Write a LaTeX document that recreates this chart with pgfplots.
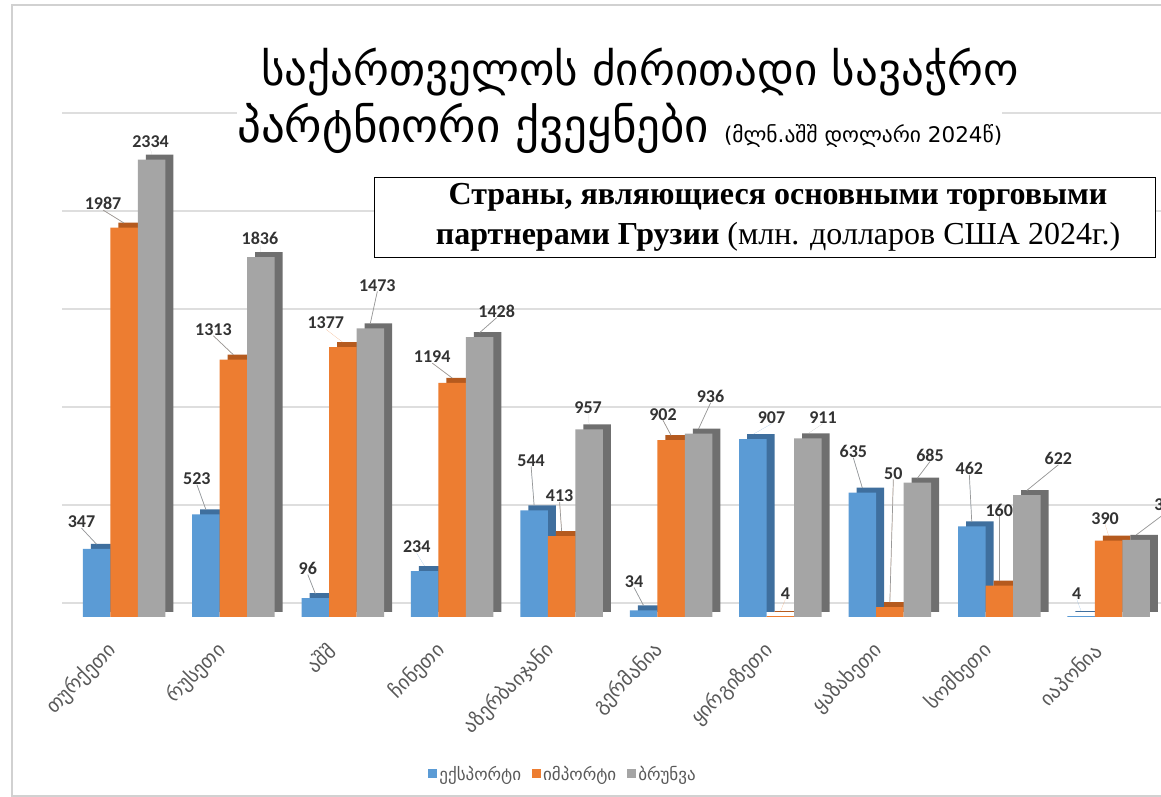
\documentclass[border=0pt]{standalone}
\usepackage{fontspec}
\usepackage{pgfplots}
\pgfplotsset{compat=1.18}
\usepackage{pgfplotstable}
\setmainfont{DejaVu Sans}
\newfontfamily\geo{DejaVu Sans}
\newfontfamily\num{Carlito}
\newfontfamily\rus{Liberation Serif}
\definecolor{cE}{HTML}{5B9BD5}
\definecolor{cEs}{HTML}{3F6F9E}
\definecolor{cI}{HTML}{ED7D31}
\definecolor{cIs}{HTML}{B55A1E}
\definecolor{cT}{HTML}{A5A5A5}
\definecolor{cTs}{HTML}{6F6F6F}
\definecolor{lab}{HTML}{333333}
\definecolor{tickc}{HTML}{595959}

% x, value, label offset dx/dy (pt) from bar top, leader line flag
\pgfplotstableread{
x e edx edy el i idx idy il t tdx tdy tl
0 347 -15 27 1 1987 -21 24 1 2334 -1 18 0
1 523 -9 36 1 1313 -20 30 1 1836 -1 19 0
2 96 -7.5 30 1 1377 -17 24 0 1473 7 43 1
3 234 -8 24 0 1194 -20 26 1 1428 17 26 1
4 544 -3 50 1 413 -2 40 1 957 -1 22 0
5 34 -9.5 29 1 902 -8 26 1 936 12 37 1
6 907 18.5 21.5 0 4 5 23 0 911 15 21 0
7 635 -9 41 1 50 3.5 134 1 685 12.7 27.7 1
8 462 -2.4 58 1 160 0 75.6 1 622 31.6 36.7 1
9 4 -4.4 23 0 390 -3.6 22.3 0 394 32 35 1
}\data

\pgfplotsset{
  myleg/.style={legend image code/.code={\fill[##1, draw=none] (0pt,-4.5pt) rectangle (9pt,4.5pt);}},
  lbl/.style 2 args={
    point meta=explicit symbolic,
    visualization depends on={\thisrow{#1dx}\as\dx},
    visualization depends on={\thisrow{#1dy}\as\dy},
    visualization depends on={\thisrow{#1l}\as\lead},
    nodes near coords,
    every node near coord/.append style={anchor=center,
      xshift={\dx pt+#2}, yshift={\dy pt},
      font=\num\bfseries\fontsize{18}{18}\selectfont, text=lab, inner sep=0pt,
      append after command={(\tikzlastnode.south) edge[draw=black!40, line width=0.7pt, draw opacity=\lead] ++({-1*(\dx pt)},{-1*(\dy pt)+11pt})}}
  },
}

\begin{document}
\begin{tikzpicture}
\useasboundingbox (0,0) rectangle (1161pt,797pt);
\clip (0,0) rectangle (1161pt,797pt);
\fill[white] (0,0) rectangle (1161pt,797pt);
\draw[black!18, line width=1.2pt] (12pt,1pt) rectangle (1190pt,792pt);
\begin{axis}[
  at={(62pt,180pt)}, anchor=south west,
  scale only axis, width=1134.1pt, height=490pt,
  xmin=-0.5667, xmax=9.8, ymin=0, ymax=2500,
  clip=false,
  axis line style={draw=none},
  tick style={draw=none},
  ytick={0,500,...,2500}, yticklabels={},
  ymajorgrids, grid style={draw=black!13, line width=1.3pt, yshift=14pt},
  xtick={0,...,9},
  xticklabels={თურქეთი,რუსეთი,აშშ,ჩინეთი,აზერბაიჯანი,გერმანია,ყირგიზეთი,ყაზახეთი,სომხეთი,იაპონია},
  xticklabel style={font=\geo\fontsize{20}{20}\selectfont, text=tickc, xshift=-11pt, yshift=-30pt, rotate=45, anchor=east, inner sep=0pt},
  legend columns=3,
  legend style={at={(0.4418,-0.3204)}, anchor=center, draw=none, fill=none,
    font=\geo\fontsize{17}{17}\selectfont, text=tickc,
    /tikz/every even column/.append style={column sep=9pt}},
]
% export
\addplot[ybar, bar width=27.5pt, bar shift=-27.5pt, fill=cEs, draw=none, xshift=8pt, yshift=5pt, forget plot] table[x=x,y=e] {\data};
\addplot[ybar, bar width=27.5pt, bar shift=-27.5pt, fill=cE, draw=none, myleg, lbl={e}{-27.5pt}] table[x=x,y=e,meta=e] {\data};
% import
\addplot[ybar, bar width=27.5pt, bar shift=0pt, fill=cIs, draw=none, xshift=8pt, yshift=5pt, forget plot] table[x=x,y=i] {\data};
\addplot[ybar, bar width=27.5pt, bar shift=0pt, fill=cI, draw=none, myleg, lbl={i}{0pt}] table[x=x,y=i,meta=i] {\data};
% turnover
\addplot[ybar, bar width=27.5pt, bar shift=27.5pt, fill=cTs, draw=none, xshift=8pt, yshift=5pt, forget plot] table[x=x,y=t] {\data};
\addplot[ybar, bar width=27.5pt, bar shift=27.5pt, fill=cT, draw=none, myleg, lbl={t}{27.5pt}] table[x=x,y=t,meta=t] {\data};
\legend{ექსპორტი,იმპორტი,ბრუნვა}
\end{axis}
\node[font=\geo\fontsize{45}{45}\selectfont, anchor=center] at (640pt,725pt) {საქართველოს ძირითადი სავაჭრო};
\node[anchor=west, inner sep=0pt, fill=white] at (237pt,669pt) {\geo\fontsize{47}{47}\selectfont პარტნიორი ქვეყნები \fontsize{21.5}{21.5}\selectfont(მლნ.აშშ დოლარი 2024წ)};
\draw[black, line width=1pt, fill=white] (374pt,539pt) rectangle (1155pt,619pt);
\node[align=center, font=\rus\fontsize{32}{40}\selectfont, inner sep=0pt] at (778pt,580pt) {\textbf{Страны, являющиеся основными торговыми}\\\textbf{партнерами Грузии} (млн. долларов США 2024г.)};
\end{tikzpicture}
\end{document}
